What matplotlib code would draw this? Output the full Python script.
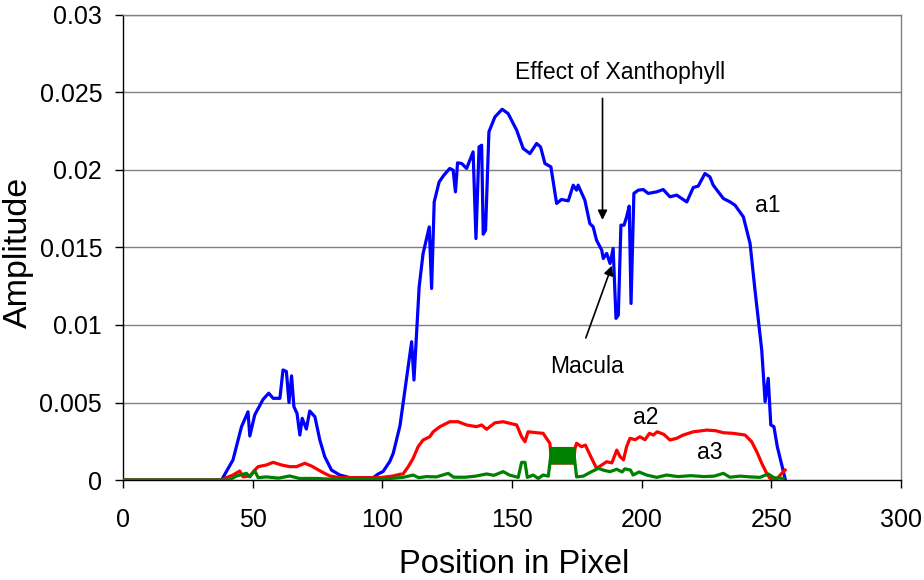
import matplotlib
matplotlib.use("Agg")
import matplotlib.pyplot as plt

# ---- data ----
a1_x = [0, 38, 42.4, 45.7, 48.2, 48.9, 50.8, 54.0, 56.2, 57.9, 60.5, 61.7, 63.0, 64.0, 65.0, 65.9, 67.1,
        68.2, 69.1, 70.7, 72.0, 74.0, 75.9, 77.8, 80.4, 83.6, 87.5, 96.5, 98.4, 100.3, 102.9, 104.2,
        106.8, 108.0, 111.3, 112.2, 114.2, 115.7, 118.1, 119.0, 120.0, 121.9, 123.7, 126.0, 127.3,
        128.2, 129.0, 130.6, 132.5, 135.0, 136.1, 137.3, 138.3, 138.9, 139.8, 141.1, 143.4, 146.2,
        148.5, 151.8, 154.3, 156.9, 159.5, 161.0, 162.7, 165.0, 167.2, 169.1, 171.7, 173.6, 174.9,
        175.5, 178.1, 180.0, 181.3, 182.6, 184.6, 185.2, 186.5, 187.8, 189.0, 190.1, 191.0, 192.0,
        193.2, 194.2, 195.2, 195.9, 197.0, 198.7, 200.6, 202.5, 205.8, 208.3, 210.9, 213.5, 217.4,
        219.9, 221.8, 224.4, 226.3, 227.6, 231.5, 234.1, 236.0, 239.2, 241.8, 243.7, 246.3, 247.6,
        248.8, 249.8, 251.0, 252.3, 255.3]
a1_y = [0, 0, 0.00129, 0.00344, 0.0044, 0.00284, 0.0042, 0.0052, 0.0056, 0.00527, 0.00527, 0.0071,
        0.0070, 0.0050, 0.00672, 0.00473, 0.0043, 0.0029, 0.00398, 0.00329, 0.00445, 0.00408, 0.00258,
        0.0015, 0.00064, 0.00032, 0.00015, 0.00015, 0.00039, 0.00055, 0.0012, 0.00172, 0.0035, 0.00494,
        0.00892, 0.00645, 0.01246, 0.0146, 0.01633, 0.01236, 0.01794, 0.01923, 0.01966, 0.0201,
        0.01999, 0.01859, 0.02046, 0.02042, 0.0201, 0.02117, 0.01558, 0.02149, 0.0216, 0.01586,
        0.01612, 0.02246, 0.02342, 0.02392, 0.02364, 0.02257, 0.02139, 0.02106, 0.02171, 0.02149,
        0.02042, 0.0202, 0.01784, 0.0181, 0.01801, 0.01902, 0.0187, 0.01902, 0.01805, 0.01655,
        0.01633, 0.01547, 0.01483, 0.01429, 0.01462, 0.01397, 0.01494, 0.01043, 0.01064, 0.01644,
        0.01644, 0.01698, 0.01767, 0.01139, 0.01849, 0.0187, 0.01874, 0.01849, 0.01859, 0.01874,
        0.01827, 0.01838, 0.01794, 0.01887, 0.01896, 0.01977, 0.01956, 0.01902, 0.01816, 0.01794,
        0.01773, 0.01698, 0.01526, 0.01225, 0.00838, 0.00505, 0.00656, 0.00355, 0.00344, 0.00215,
        0.0001]

a2_x = [0, 37.6, 42.4, 45.0, 46.3, 48.9, 50.8, 52.1, 55.3, 57.9, 61.1, 64.3, 66.9, 70.1, 72.7, 76.5,
        79.7, 83.6, 99.0, 104.2, 106.8, 108.0, 110.0, 111.9, 113.8, 115.7, 118.3, 119.6, 122.2, 126.0,
        129.2, 132.5, 136.3, 138.3, 140.2, 143.4, 146.6, 151.8, 153.7, 155.0, 156.2, 159.5, 162.0,
        164.6, 165.3, 165.9, 166.5, 167.1, 167.7, 168.3, 168.9, 169.5, 170.1, 170.7, 171.3, 171.9,
        172.5, 173.1, 173.7, 174.3, 174.9, 176.8, 178.3, 180.1, 182.6, 184.0,
        186.5, 188.5, 190.4, 191.7, 193.0, 194.2, 195.5, 197.5, 199.3, 201.3, 203.0, 204.5, 206.0,
        208.5, 210.9, 213.5, 216.0, 219.9, 225.1, 228.5, 231.5, 235.3, 239.9, 242.4, 244.4, 246.3,
        248.2, 249.5, 252.1, 254.0, 255.3]
a2_y = [0, 0, 0.00032, 0.00058, 0.0002, 0.00026, 0.00064, 0.00086, 0.00097, 0.00114, 0.00097,
        0.00086, 0.00086, 0.00108, 0.0009, 0.00054, 0.00026, 0.00015, 0.00015, 0.00026, 0.00037,
        0.00039, 0.00086, 0.0014, 0.00215, 0.00258, 0.00279, 0.00311, 0.00344, 0.00376, 0.00376,
        0.00355, 0.00344, 0.00355, 0.00327, 0.00369, 0.00376, 0.00355, 0.00279, 0.00247, 0.00311,
        0.00305, 0.00301, 0.00237, 0.00108, 0.00204, 0.00108, 0.00204, 0.00108, 0.00204, 0.00108,
        0.00204, 0.00108, 0.00204, 0.00108, 0.00204, 0.00108, 0.00204, 0.00108, 0.00204,
        0.00237, 0.00215, 0.00225, 0.00161, 0.00075, 0.0009, 0.00118, 0.0011,
        0.00193, 0.0015, 0.0013, 0.00215, 0.00269, 0.0026, 0.00279, 0.0026, 0.00301, 0.0029, 0.00311,
        0.00295, 0.00258, 0.00269, 0.0029, 0.00311, 0.00322, 0.00318, 0.00305, 0.00301, 0.0029,
        0.00247, 0.00182, 0.00108, 0.00043, 0.0001, 0.00005, 0.00043, 0.00064]

a3_x = [0, 41.0, 43.8, 47.6, 48.9, 50.8, 52.1, 55.3, 60.0, 64.3, 68.0, 75.0, 80.0, 100.0, 108.0,
        111.9, 114.0, 117.0, 120.9, 125.4, 127.5, 132.0, 136.0, 140.2, 143.0, 146.6, 149.0, 152.4,
        153.7, 155.0, 155.9, 158.2, 160.1, 162.0, 164.0, 165.3, 165.9, 166.5, 167.1, 167.7, 168.3,
        168.9, 169.5, 170.1, 170.7, 171.3, 171.9, 172.5, 173.1, 173.7, 174.3,
        174.9, 177.5, 180.7, 183.3, 185.5, 187.8, 190.4, 192.5, 193.5, 195.7, 196.7, 199.0, 201.9,
        205.8, 209.6, 214.0, 219.0, 224.0, 228.0, 231.5, 234.0, 238.0, 242.0, 245.6, 248.8, 251.0,
        254.6]
a3_y = [0, 0, 0.00026, 0.00043, 0.0002, 0.0006, 0.00015, 0.0002, 0.00012, 0.00026, 0.0001, 0.0001,
        0.00005, 0.00005, 0.00017, 0.00032, 0.00015, 0.00022, 0.0002, 0.00043, 0.00018, 0.00018,
        0.00025, 0.00039, 0.0003, 0.00054, 0.00032, 0.00017, 0.00114, 0.00114, 0.00017, 0.00032,
        0.0001, 0.00032, 0.00025, 0.00204, 0.00108, 0.00204, 0.00108, 0.00204, 0.00108,
        0.00204, 0.00108, 0.00204, 0.00108, 0.00204, 0.00108, 0.00204, 0.00108, 0.00204, 0.00108,
        0.0002, 0.00025, 0.00054, 0.00075, 0.00062, 0.00054, 0.00069, 0.00052,
        0.00072, 0.00064, 0.00032, 0.00052, 0.00032, 0.00017, 0.00032, 0.00022, 0.00028, 0.00022,
        0.00025, 0.00043, 0.00018, 0.00025, 0.0002, 0.00017, 0.00039, 0.00015, 0.0001]

x_ticks = [0, 50, 100, 150, 200, 250, 300]
y_ticks = [0, 0.005, 0.01, 0.015, 0.02, 0.025, 0.03]
y_tick_labels = ["0", "0.005", "0.01", "0.015", "0.02", "0.025", "0.03"]

plt.rcParams['font.family'] = ['Liberation Sans', 'DejaVu Sans']

fig = plt.figure(figsize=(9.24, 5.8), dpi=100)
ax = fig.add_axes([123 / 924, 1 - 480 / 580, (901 - 123) / 924, (480 - 15) / 580])

for yv in y_ticks[1:]:
    ax.axhline(yv, color='#808080', lw=1.0, zorder=1)

ax.plot(a1_x, a1_y, color='#0000FF', lw=2.3, zorder=3)
ax.plot(a2_x, a2_y, color='#FF0000', lw=2.3, zorder=3)
ax.plot(a3_x, a3_y, color='#008000', lw=2.3, zorder=4)

ax.set_xlim(0, 300)
ax.set_ylim(0, 0.03)
ax.set_xticks(x_ticks)
ax.set_xticklabels([str(v) for v in x_ticks])
ax.set_yticks(y_ticks)
ax.set_yticklabels(y_tick_labels)
ax.tick_params(axis='both', direction='out', length=6, width=1, labelsize=18, color='black')
ax.tick_params(axis='x', pad=14)
ax.tick_params(axis='y', pad=9)

ax.spines['top'].set_color('#808080')
ax.spines['right'].set_color('#808080')
ax.spines['left'].set_color('black')
ax.spines['bottom'].set_color('black')
for s in ax.spines.values():
    s.set_linewidth(1.0)

ax.set_xlabel('Position in Pixel', fontsize=23.5)
ax.xaxis.set_label_coords(0.503, -0.148)
ax.set_ylabel('Amplitude', fontsize=24.5)
ax.yaxis.set_label_coords(-0.115, 0.49)

ax.text(151.1, 0.0263, 'Effect of Xanthophyll', fontsize=16.5, ha='left', va='center')
ax.annotate('', xy=(184.9, 0.0166), xytext=(184.9, 0.0248),
            arrowprops=dict(arrowstyle='-|>', color='black', lw=1.2, mutation_scale=14))
ax.text(164.6, 0.0073, 'Macula', fontsize=16.5, ha='left', va='center')
ax.annotate('', xy=(188.9, 0.0140), xytext=(178.1, 0.0090),
            arrowprops=dict(arrowstyle='-|>', color='black', lw=1.2, mutation_scale=14))
ax.text(243.7, 0.0177, 'a1', fontsize=16.5, ha='left', va='center')
ax.text(196.5, 0.0040, 'a2', fontsize=16.5, ha='left', va='center')
ax.text(221.2, 0.0018, 'a3', fontsize=16.5, ha='left', va='center')

fig.savefig('out.png', dpi=100)
